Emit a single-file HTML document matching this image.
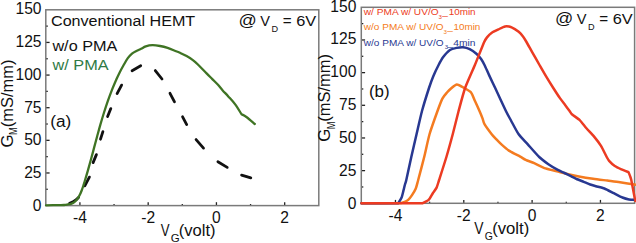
<!DOCTYPE html>
<html><head><meta charset="utf-8"><style>
html,body{margin:0;padding:0;background:#fff;width:636px;height:243px;overflow:hidden}
svg{display:block}
text{font-family:"Liberation Sans", sans-serif;fill:#111}
</style></head><body>
<svg width="636" height="243" viewBox="0 0 636 243">
<line x1="45.8" y1="189.28" x2="47.80" y2="189.28" stroke="#222" stroke-width="1.3"/>
<line x1="45.8" y1="172.97" x2="49.60" y2="172.97" stroke="#222" stroke-width="1.3"/>
<line x1="45.8" y1="156.65" x2="47.80" y2="156.65" stroke="#222" stroke-width="1.3"/>
<line x1="45.8" y1="140.33" x2="49.60" y2="140.33" stroke="#222" stroke-width="1.3"/>
<line x1="45.8" y1="124.02" x2="47.80" y2="124.02" stroke="#222" stroke-width="1.3"/>
<line x1="45.8" y1="107.70" x2="49.60" y2="107.70" stroke="#222" stroke-width="1.3"/>
<line x1="45.8" y1="91.38" x2="47.80" y2="91.38" stroke="#222" stroke-width="1.3"/>
<line x1="45.8" y1="75.07" x2="49.60" y2="75.07" stroke="#222" stroke-width="1.3"/>
<line x1="45.8" y1="58.75" x2="47.80" y2="58.75" stroke="#222" stroke-width="1.3"/>
<line x1="45.8" y1="42.43" x2="49.60" y2="42.43" stroke="#222" stroke-width="1.3"/>
<line x1="45.8" y1="26.12" x2="47.80" y2="26.12" stroke="#222" stroke-width="1.3"/>
<line x1="79.92" y1="205.6" x2="79.92" y2="202.20" stroke="#222" stroke-width="1.3"/>
<line x1="114.05" y1="205.6" x2="114.05" y2="204.00" stroke="#222" stroke-width="1.3"/>
<line x1="148.18" y1="205.6" x2="148.18" y2="202.20" stroke="#222" stroke-width="1.3"/>
<line x1="182.30" y1="205.6" x2="182.30" y2="204.00" stroke="#222" stroke-width="1.3"/>
<line x1="216.43" y1="205.6" x2="216.43" y2="202.20" stroke="#222" stroke-width="1.3"/>
<line x1="250.55" y1="205.6" x2="250.55" y2="204.00" stroke="#222" stroke-width="1.3"/>
<line x1="284.68" y1="205.6" x2="284.68" y2="202.20" stroke="#222" stroke-width="1.3"/>
<rect x="45.8" y="9.8" width="273.00" height="195.80" fill="none" stroke="#7a7a7a" stroke-width="1.5"/>
<text x="41.5" y="210.92" text-anchor="end" font-size="15.6">0</text>
<text x="41.5" y="178.12" text-anchor="end" font-size="15.6">25</text>
<text x="41.5" y="145.31" text-anchor="end" font-size="15.6">50</text>
<text x="41.5" y="112.51" text-anchor="end" font-size="15.6">75</text>
<text x="41.5" y="79.71" text-anchor="end" font-size="15.6">100</text>
<text x="41.5" y="46.90" text-anchor="end" font-size="15.6">125</text>
<text x="41.5" y="14.10" text-anchor="end" font-size="15.6">150</text>
<text x="79.92" y="222.6" text-anchor="middle" font-size="15.6">-4</text>
<text x="148.18" y="222.6" text-anchor="middle" font-size="15.6">-2</text>
<text x="216.43" y="222.6" text-anchor="middle" font-size="15.6">0</text>
<text x="284.68" y="222.6" text-anchor="middle" font-size="15.6">2</text>
<line x1="361.3" y1="186.97" x2="363.30" y2="186.97" stroke="#222" stroke-width="1.3"/>
<line x1="361.3" y1="170.63" x2="365.10" y2="170.63" stroke="#222" stroke-width="1.3"/>
<line x1="361.3" y1="154.30" x2="363.30" y2="154.30" stroke="#222" stroke-width="1.3"/>
<line x1="361.3" y1="137.97" x2="365.10" y2="137.97" stroke="#222" stroke-width="1.3"/>
<line x1="361.3" y1="121.63" x2="363.30" y2="121.63" stroke="#222" stroke-width="1.3"/>
<line x1="361.3" y1="105.30" x2="365.10" y2="105.30" stroke="#222" stroke-width="1.3"/>
<line x1="361.3" y1="88.97" x2="363.30" y2="88.97" stroke="#222" stroke-width="1.3"/>
<line x1="361.3" y1="72.63" x2="365.10" y2="72.63" stroke="#222" stroke-width="1.3"/>
<line x1="361.3" y1="56.30" x2="363.30" y2="56.30" stroke="#222" stroke-width="1.3"/>
<line x1="361.3" y1="39.97" x2="365.10" y2="39.97" stroke="#222" stroke-width="1.3"/>
<line x1="361.3" y1="23.63" x2="363.30" y2="23.63" stroke="#222" stroke-width="1.3"/>
<line x1="395.46" y1="203.3" x2="395.46" y2="199.90" stroke="#222" stroke-width="1.3"/>
<line x1="429.62" y1="203.3" x2="429.62" y2="201.70" stroke="#222" stroke-width="1.3"/>
<line x1="463.79" y1="203.3" x2="463.79" y2="199.90" stroke="#222" stroke-width="1.3"/>
<line x1="497.95" y1="203.3" x2="497.95" y2="201.70" stroke="#222" stroke-width="1.3"/>
<line x1="532.11" y1="203.3" x2="532.11" y2="199.90" stroke="#222" stroke-width="1.3"/>
<line x1="566.28" y1="203.3" x2="566.28" y2="201.70" stroke="#222" stroke-width="1.3"/>
<line x1="600.44" y1="203.3" x2="600.44" y2="199.90" stroke="#222" stroke-width="1.3"/>
<rect x="361.3" y="7.3" width="273.30" height="196.00" fill="none" stroke="#7a7a7a" stroke-width="1.5"/>
<text x="356.4" y="208.62" text-anchor="end" font-size="15.6">0</text>
<text x="356.4" y="175.78" text-anchor="end" font-size="15.6">25</text>
<text x="356.4" y="142.95" text-anchor="end" font-size="15.6">50</text>
<text x="356.4" y="110.11" text-anchor="end" font-size="15.6">75</text>
<text x="356.4" y="77.27" text-anchor="end" font-size="15.6">100</text>
<text x="356.4" y="44.44" text-anchor="end" font-size="15.6">125</text>
<text x="356.4" y="11.60" text-anchor="end" font-size="15.6">150</text>
<text x="395.46" y="220.9" text-anchor="middle" font-size="15.6">-4</text>
<text x="463.79" y="220.9" text-anchor="middle" font-size="15.6">-2</text>
<text x="532.11" y="220.9" text-anchor="middle" font-size="15.6">0</text>
<text x="600.44" y="220.9" text-anchor="middle" font-size="15.6">2</text>
<polyline points="69.6,203.3 72.5,202.1 76.2,199.7 78.5,197.4" fill="none" stroke="#111" stroke-width="2.8" stroke-linejoin="round" stroke-linecap="round" />
<polyline points="84.8,185.9 89.4,177.1" fill="none" stroke="#111" stroke-width="2.8" stroke-linejoin="round" stroke-linecap="round" />
<polyline points="93.1,162.6 96.4,154.6" fill="none" stroke="#111" stroke-width="2.8" stroke-linejoin="round" stroke-linecap="round" />
<polyline points="100.5,139.2 102.9,131.6" fill="none" stroke="#111" stroke-width="2.8" stroke-linejoin="round" stroke-linecap="round" />
<polyline points="107.6,116.6 110.8,108.6" fill="none" stroke="#111" stroke-width="2.8" stroke-linejoin="round" stroke-linecap="round" />
<polyline points="117.1,93.6 121.6,85.1" fill="none" stroke="#111" stroke-width="2.8" stroke-linejoin="round" stroke-linecap="round" />
<polyline points="132.1,70.7 140.7,65.8" fill="none" stroke="#111" stroke-width="2.8" stroke-linejoin="round" stroke-linecap="round" />
<polyline points="155.3,70.6 162.0,79.0" fill="none" stroke="#111" stroke-width="2.8" stroke-linejoin="round" stroke-linecap="round" />
<polyline points="170.0,93.3 174.5,101.8" fill="none" stroke="#111" stroke-width="2.8" stroke-linejoin="round" stroke-linecap="round" />
<polyline points="182.6,116.8 186.7,124.6" fill="none" stroke="#111" stroke-width="2.8" stroke-linejoin="round" stroke-linecap="round" />
<polyline points="196.1,139.6 203.5,148.1" fill="none" stroke="#111" stroke-width="2.8" stroke-linejoin="round" stroke-linecap="round" />
<polyline points="217.9,161.7 227.2,167.4" fill="none" stroke="#111" stroke-width="2.8" stroke-linejoin="round" stroke-linecap="round" />
<polyline points="241.6,175.1 250.8,177.8" fill="none" stroke="#111" stroke-width="2.8" stroke-linejoin="round" stroke-linecap="round" />
<path d="M46.00,205.30 C48.33,205.27 57.67,205.13 60.00,205.10 C60.67,205.08 62.83,205.08 64.00,205.00 C65.17,204.92 65.73,204.83 67.00,204.60 C68.27,204.37 70.23,204.13 71.60,203.60 C72.97,203.07 74.15,202.30 75.20,201.40 C76.25,200.50 77.07,199.42 77.90,198.20 C78.73,196.98 79.52,195.53 80.20,194.10 C80.88,192.67 81.47,191.03 82.00,189.60 C82.53,188.17 82.96,186.85 83.40,185.50 C83.84,184.15 83.90,184.02 84.65,181.50 C85.41,178.98 86.86,174.15 87.93,170.40 C89.00,166.65 90.04,162.83 91.08,159.00 C92.12,155.17 93.16,151.23 94.18,147.40 C95.21,143.57 96.19,139.83 97.23,136.00 C98.28,132.17 99.34,128.23 100.45,124.40 C101.56,120.57 102.66,116.83 103.87,113.00 C105.08,109.17 106.38,105.17 107.70,101.40 C109.02,97.63 110.29,94.17 111.78,90.40 C113.27,86.63 115.43,81.63 116.66,78.80 C117.89,75.97 118.05,75.62 119.17,73.40 C120.29,71.18 121.96,68.03 123.40,65.50 C124.84,62.97 126.37,60.18 127.80,58.20 C129.23,56.22 130.57,54.80 132.00,53.60 C133.43,52.40 134.88,51.80 136.40,51.00 C137.92,50.20 139.53,49.57 141.10,48.80 C142.67,48.03 143.92,47.00 145.80,46.40 C147.68,45.80 150.03,45.27 152.40,45.20 C154.77,45.13 157.47,45.55 160.00,46.00 C162.53,46.45 164.92,47.03 167.60,47.90 C170.28,48.77 174.03,50.38 176.10,51.20 C178.17,52.02 178.25,51.98 180.00,52.80 C181.75,53.62 184.40,54.85 186.60,56.10 C188.80,57.35 191.15,58.73 193.20,60.30 C195.25,61.87 196.67,63.32 198.90,65.50 C201.13,67.68 204.37,71.13 206.60,73.40 C208.83,75.67 210.40,77.20 212.30,79.10 C214.20,81.00 216.27,82.92 218.00,84.80 C219.73,86.68 220.98,88.47 222.70,90.40 C224.42,92.33 226.22,94.07 228.30,96.40 C230.38,98.73 233.00,101.43 235.20,104.40 C237.40,107.37 240.45,112.57 241.50,114.20 C242.32,114.67 244.18,115.37 246.40,117.00 C248.62,118.63 253.40,122.83 254.80,124.00" fill="none" stroke="#3f7424" stroke-width="2.3" stroke-linejoin="round" stroke-linecap="round" />
<path d="M361.50,203.30 C366.07,203.27 396.13,203.03 400.70,203.00 C401.08,202.91 403.12,202.56 404.00,202.20 C404.88,201.84 407.27,200.73 408.20,199.90 C409.13,199.07 411.11,196.43 412.00,195.10 C412.89,193.77 415.08,190.26 415.80,188.50 C416.52,186.74 417.22,183.68 418.20,180.00 C419.18,176.32 422.87,162.37 424.20,157.00 C425.53,151.63 428.05,139.37 429.60,134.00 C431.15,128.63 436.01,115.13 437.50,111.00 C438.99,106.87 441.27,100.78 442.40,98.60 C443.53,96.42 446.20,93.48 447.20,92.30 C448.20,91.12 449.87,89.42 451.00,88.50 C452.13,87.58 455.31,84.44 456.90,84.40 C458.49,84.37 462.97,87.28 464.60,88.20 C466.23,89.12 469.67,90.78 470.90,92.30 C472.12,93.82 474.10,99.02 475.10,101.20 C476.10,103.38 478.62,108.97 479.50,111.00 C480.38,113.03 482.02,117.06 482.60,118.60 C483.18,120.14 483.46,122.40 484.50,124.20 C485.54,126.00 490.19,132.31 491.50,134.00 C492.81,135.69 494.55,137.49 495.70,138.70 C496.85,139.91 499.86,143.01 501.40,144.40 C502.94,145.79 506.71,149.16 508.90,150.60 C511.09,152.03 518.24,155.61 520.20,156.70 C522.16,157.78 524.07,159.14 525.70,159.90 C527.33,160.66 531.89,162.21 534.20,163.20 C536.51,164.19 542.85,167.46 545.50,168.40 C548.15,169.34 554.10,170.59 556.90,171.30 C559.70,172.01 566.93,173.91 569.50,174.50 C572.07,175.09 576.15,175.91 578.90,176.40 C581.65,176.89 589.79,178.21 593.10,178.70 C596.41,179.19 604.16,180.18 607.30,180.60 C610.44,181.02 616.65,181.81 620.00,182.30 C623.35,182.79 634.13,184.51 636.00,184.80" fill="none" stroke="#f47b20" stroke-width="2.5" stroke-linejoin="round" stroke-linecap="round" />
<path d="M361.50,203.30 C365.10,203.30 393.90,203.30 397.50,203.30 C397.58,203.27 397.89,203.58 398.30,203.00 C398.71,202.42 401.08,198.76 401.60,197.50 C402.12,196.24 403.17,191.68 403.50,190.40 C403.83,189.12 404.62,185.74 404.90,184.70 C405.18,183.66 405.66,182.77 406.30,180.00 C406.94,177.23 410.27,161.60 411.30,157.00 C412.33,152.40 415.53,138.60 416.60,134.00 C417.67,129.40 420.76,115.60 422.00,111.00 C423.24,106.40 427.88,91.46 429.00,88.00 C430.12,84.54 432.24,78.70 433.20,76.40 C434.16,74.10 437.60,66.93 438.60,65.00 C439.60,63.07 442.07,58.60 443.20,57.10 C444.33,55.60 448.57,50.92 449.90,50.00 C451.23,49.08 455.18,48.18 456.50,47.90 C457.82,47.62 461.78,47.08 463.10,47.20 C464.42,47.32 468.37,48.44 469.70,49.10 C471.03,49.76 475.26,52.81 476.40,53.80 C477.54,54.79 480.29,57.88 481.10,59.00 C481.91,60.12 483.69,63.36 484.50,65.00 C485.31,66.64 488.13,73.10 489.20,75.40 C490.27,77.70 493.53,84.44 495.20,88.00 C496.87,91.56 504.32,107.75 505.90,111.00 C507.48,114.25 509.74,118.20 511.00,120.50 C512.26,122.80 516.82,131.61 518.50,134.00 C520.18,136.39 525.73,142.10 527.80,144.40 C529.87,146.70 537.14,155.02 539.20,157.00 C541.26,158.98 546.54,162.91 548.40,164.20 C550.26,165.49 556.19,169.02 557.80,169.90 C559.41,170.78 563.14,172.35 564.50,173.00 C565.86,173.65 570.06,175.75 571.40,176.40 C572.74,177.05 576.67,178.96 577.90,179.50 C579.13,180.04 582.47,181.30 583.70,181.80 C584.93,182.30 588.97,184.06 590.20,184.50 C591.43,184.94 594.58,185.80 596.00,186.20 C597.42,186.60 602.62,187.80 604.40,188.50 C606.18,189.20 612.00,192.30 613.80,193.20 C615.60,194.10 620.88,196.88 622.40,197.50 C623.92,198.12 627.64,199.16 629.00,199.40 C630.36,199.64 635.30,199.85 636.00,199.90" fill="none" stroke="#283891" stroke-width="2.5" stroke-linejoin="round" stroke-linecap="round" />
<path d="M361.50,203.30 C367.59,203.30 416.31,203.30 422.40,203.30 C423.02,202.96 427.56,200.91 428.60,199.90 C429.64,198.89 432.00,194.43 432.80,193.20 C433.60,191.97 435.97,188.92 436.60,187.60 C437.23,186.28 438.12,183.06 439.10,180.00 C440.08,176.94 445.03,161.60 446.40,157.00 C447.77,152.40 451.58,138.60 452.80,134.00 C454.02,129.40 457.37,115.60 458.60,111.00 C459.83,106.40 463.47,92.60 465.10,88.00 C466.73,83.40 472.99,69.60 474.90,65.00 C476.81,60.40 482.99,44.76 484.20,42.00 C485.41,39.24 486.24,38.33 487.00,37.40 C487.76,36.47 490.66,33.50 491.80,32.70 C492.94,31.90 497.08,30.03 498.40,29.40 C499.72,28.77 503.68,26.61 505.00,26.40 C506.32,26.19 510.23,26.76 511.60,27.30 C512.97,27.84 517.56,30.88 518.70,31.80 C519.84,32.72 522.22,35.48 523.00,36.50 C523.78,37.52 525.57,40.41 526.50,42.00 C527.43,43.59 531.00,50.10 532.30,52.40 C533.60,54.70 538.12,62.60 539.50,65.00 C540.88,67.40 544.72,74.10 546.10,76.40 C547.48,78.70 551.90,85.80 553.30,88.00 C554.70,90.20 558.92,96.70 560.10,98.40 C561.28,100.10 564.15,103.74 565.10,105.00 C566.05,106.26 568.89,110.05 569.60,111.00 C570.31,111.95 571.19,113.59 572.20,114.50 C573.21,115.41 578.30,118.75 579.70,120.10 C581.10,121.45 584.78,126.37 586.20,128.00 C587.62,129.63 592.42,134.61 593.90,136.40 C595.38,138.19 599.72,143.84 601.00,145.90 C602.28,147.96 605.89,155.51 606.70,157.00 C607.51,158.49 608.29,159.90 609.10,160.80 C609.91,161.70 613.57,165.15 614.80,166.00 C616.03,166.85 620.03,168.69 621.40,169.30 C622.77,169.91 627.79,171.82 628.50,172.10 C628.65,172.48 629.72,175.11 630.00,175.90 C630.28,176.69 630.83,177.79 631.30,180.00 C631.77,182.21 634.28,195.90 634.70,198.00 C635.12,200.10 635.42,200.70 635.50,201.00" fill="none" stroke="#ec3b22" stroke-width="2.5" stroke-linejoin="round" stroke-linecap="round" />
<text transform="translate(50.99,25.50) scale(1.0615,1)" font-size="15.2">Conventional HEMT</text>
<text transform="translate(52.40,50.70) scale(1.0621,1)" font-size="15.3">w/o PMA</text>
<text transform="translate(52.50,70.30) scale(1.0651,1)" font-size="15.3" style="fill:#2f7a45">w/ PMA</text>
<text transform="translate(50.32,126.80) scale(1.0763,1)" font-size="16">(a)</text>
<text transform="translate(368.94,97.00) scale(1.0592,1)" font-size="16">(b)</text>
<text transform="translate(238.60,26.10) scale(1.1043,1)" font-size="16.3">@</text>
<text transform="translate(260.13,25.90) scale(0.9420,1)" font-size="15.5">V</text>
<text transform="translate(271.45,32.20) scale(0.9206,1)" font-size="9.9">D</text>
<text transform="translate(282.74,25.90) scale(0.9844,1)" font-size="15.5">=</text>
<text transform="translate(296.18,25.90) scale(1.0555,1)" font-size="15.5">6V</text>
<text transform="translate(555.11,24.30) scale(1.1043,1)" font-size="16.3">@</text>
<text transform="translate(576.63,24.10) scale(0.9420,1)" font-size="15.5">V</text>
<text transform="translate(587.95,30.40) scale(0.9206,1)" font-size="9.9">D</text>
<text transform="translate(599.24,24.10) scale(0.9844,1)" font-size="15.5">=</text>
<text transform="translate(612.68,24.10) scale(1.0555,1)" font-size="15.5">6V</text>
<text transform="translate(160.83,236.00) scale(0.8168,1)" font-size="16.2">V</text>
<text transform="translate(170.73,242.20) scale(1.1269,1)" font-size="10.2">G</text>
<text transform="translate(178.76,236.00) scale(1.0241,1)" font-size="16.2">(volt)</text>
<text transform="translate(474.13,233.70) scale(0.8543,1)" font-size="16.2">V</text>
<text transform="translate(484.68,239.90) scale(1.0217,1)" font-size="10.2">G</text>
<text transform="translate(492.15,233.70) scale(1.0330,1)" font-size="16.2">(volt)</text>
<text transform="translate(12.70,147.44) rotate(-90) scale(1.0406,1)" font-size="16.2">G</text>
<text transform="translate(17.20,134.97) rotate(-90) scale(0.9106,1)" font-size="10.2">M</text>
<text transform="translate(12.70,127.23) rotate(-90) scale(1.0162,1)" font-size="16.2">(mS/mm)</text>
<text transform="translate(330.40,141.84) rotate(-90) scale(1.0406,1)" font-size="16.2">G</text>
<text transform="translate(334.90,129.37) rotate(-90) scale(0.9106,1)" font-size="10.2">M</text>
<text transform="translate(330.40,121.63) rotate(-90) scale(1.0162,1)" font-size="16.2">(mS/mm)</text>
<text transform="translate(363.80,15.20) scale(1.0555,1)" font-size="9.6" style="fill:#ec3b22">w/ PMA w/ UV/O</text>
<text transform="translate(438.47,19.10) scale(0.9847,1)" font-size="6.2" style="fill:#ec3b22">3</text>
<text transform="translate(442.15,15.30) scale(1.0372,1)" font-size="9.6" style="fill:#ec3b22">_</text>
<text transform="translate(448.76,15.20) scale(1.0286,1)" font-size="9.6" style="fill:#ec3b22">10min</text>
<text transform="translate(363.80,30.30) scale(1.0473,1)" font-size="9.6" style="fill:#f47b20">w/o PMA w/ UV/O</text>
<text transform="translate(443.57,34.20) scale(0.9847,1)" font-size="6.2" style="fill:#f47b20">3</text>
<text transform="translate(447.35,30.40) scale(1.0372,1)" font-size="9.6" style="fill:#f47b20">_</text>
<text transform="translate(453.46,30.30) scale(1.0286,1)" font-size="9.6" style="fill:#f47b20">10min</text>
<text transform="translate(363.80,45.50) scale(1.0473,1)" font-size="9.6" style="fill:#283891">w/o PMA w/ UV/O</text>
<text transform="translate(444.77,49.40) scale(0.9847,1)" font-size="6.2" style="fill:#283891">3</text>
<text transform="translate(447.55,45.60) scale(1.0372,1)" font-size="9.6" style="fill:#283891">_</text>
<text transform="translate(453.37,45.50) scale(1.0667,1)" font-size="9.6" style="fill:#283891">4min</text>
</svg>
</body></html>
